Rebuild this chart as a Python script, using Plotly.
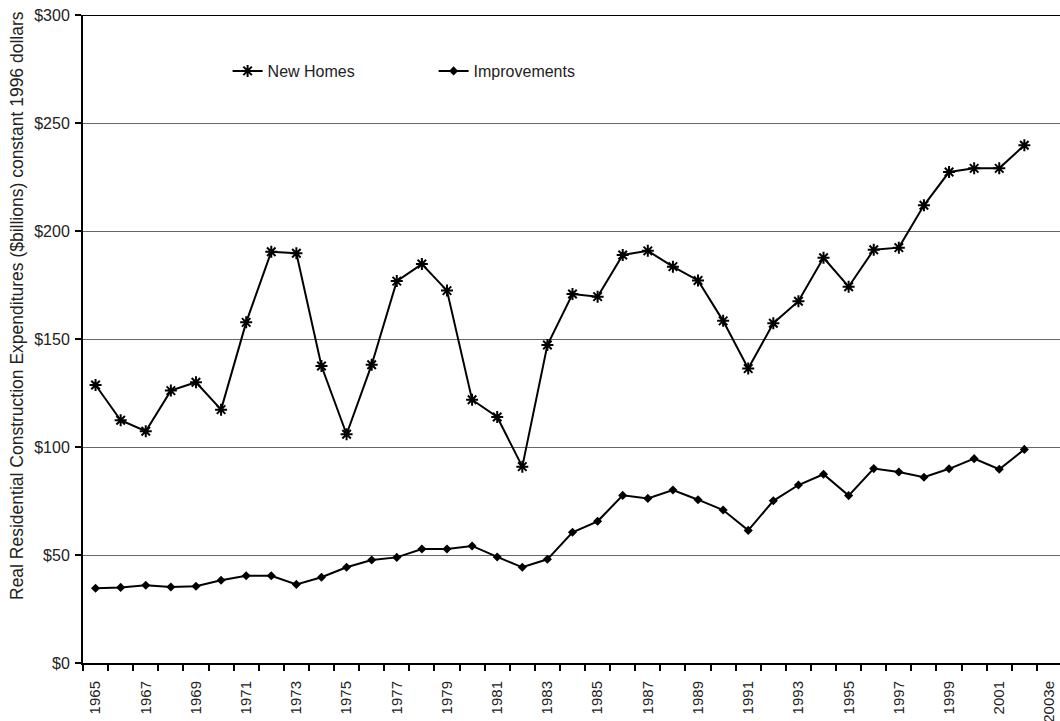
import plotly.graph_objects as go

years = [str(y) for y in range(1965, 2003)] + ["2003e"]
new_homes = [128.7, 112.4, 107.3, 126.1, 130.0, 117.3, 157.7, 190.4, 189.7, 137.5,
             105.9, 138.1, 176.8, 184.7, 172.4, 121.9, 113.9, 90.9, 147.2, 170.8,
             169.6, 188.9, 190.8, 183.5, 177.1, 158.4, 136.3, 157.3, 167.5, 187.6,
             174.2, 191.3, 192.3, 211.9, 227.3, 229.0, 229.0, 239.7]
improvements = [34.6, 35.0, 36.0, 35.2, 35.5, 38.3, 40.4, 40.4, 36.4, 39.7,
                44.3, 47.7, 48.9, 52.8, 52.8, 54.2, 49.1, 44.3, 48.0, 60.5,
                65.6, 77.6, 76.2, 80.1, 75.6, 70.8, 61.4, 75.1, 82.4, 87.4,
                77.5, 90.0, 88.4, 86.0, 89.9, 94.6, 89.7, 98.9]
y_ticks = [0, 50, 100, 150, 200, 250, 300]
y_tick_labels = ["$0", "$50", "$100", "$150", "$200", "$250", "$300"]
x_label_years = years[::2]
y_title = "Real Residential Construction Expenditures ($billions) constant 1996 dollars"

FONT = "Liberation Sans, Arial, sans-serif"

idx = list(range(len(years)))

fig = go.Figure()
fig.add_trace(go.Scatter(
    x=idx[:len(new_homes)], y=new_homes, name="New Homes", mode="lines+markers",
    line=dict(color="black", width=2),
    marker=dict(symbol="asterisk-open", size=10, color="black", line=dict(color="black", width=2)),
))
fig.add_trace(go.Scatter(
    x=idx[:len(improvements)], y=improvements, name="Improvements", mode="lines+markers",
    line=dict(color="black", width=2),
    marker=dict(symbol="diamond", size=7, color="black"),
))

fig.update_layout(
    width=1060, height=721,
    margin=dict(l=83, r=0, t=15, b=58, autoexpand=False),
    paper_bgcolor="white", plot_bgcolor="white",
    font=dict(family=FONT, size=16, color="#222"),
    showlegend=True,
    legend=dict(orientation="h", x=0.148, y=0.9136, xanchor="left", yanchor="middle",
                font=dict(size=16, color="#222"), itemwidth=30, entrywidth=161,
                bgcolor="rgba(0,0,0,0)"),
    xaxis=dict(
        range=[-0.5, 38.42], showgrid=False, zeroline=False, automargin=False,
        showline=True, linecolor="black", linewidth=2,
        tickmode="array", tickvals=idx[::2], ticktext=x_label_years,
        tickangle=-90, ticks="", tickfont=dict(size=15), ticklabeloverflow="allow",
        ticklabelstandoff=10,
        minor=dict(ticks="outside", tick0=-0.5, dtick=1, ticklen=6,
                   tickcolor="black", tickwidth=1.5, showgrid=False),
    ),
    yaxis=dict(
        range=[0, 300], tickmode="array", tickvals=y_ticks, ticktext=y_tick_labels,
        showgrid=True, gridcolor="#666", gridwidth=1, zeroline=False, automargin=False,
        showline=True, linecolor="black", linewidth=2,
        ticks="outside", ticklen=6, tickcolor="black", tickwidth=1.5,
        tickfont=dict(size=16), ticklabelstandoff=2,
    ),
)
fig.add_annotation(text=y_title, textangle=-90, xref="paper", yref="paper",
                   x=-66 / 977, y=(663 - 306) / 648, xanchor="center", yanchor="middle",
                   showarrow=False, font=dict(size=17.5, color="#222"))
fig.add_shape(type="line", xref="paper", yref="y", x0=0, x1=1, y0=300, y1=300,
              line=dict(color="black", width=2))

fig.write_html("out.html", config={"displayModeBar": False},
               post_script="document.body.style.margin='0';document.body.style.overflow='hidden';")
